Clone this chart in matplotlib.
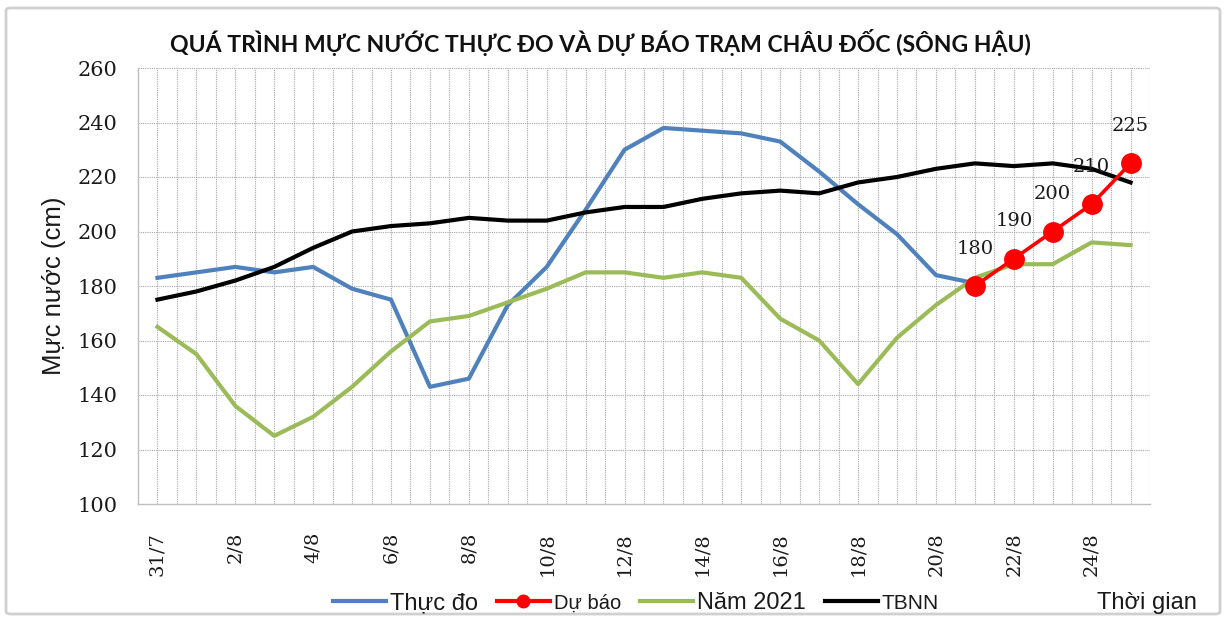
import matplotlib
matplotlib.use("Agg")
import matplotlib.pyplot as plt
from matplotlib.patches import FancyBboxPatch
from matplotlib.ticker import MultipleLocator, FixedLocator
import numpy as np

dates = ["31/7", "1/8", "2/8", "3/8", "4/8", "5/8", "6/8", "7/8", "8/8", "9/8",
         "10/8", "11/8", "12/8", "13/8", "14/8", "15/8", "16/8", "17/8", "18/8",
         "19/8", "20/8", "21/8", "22/8", "23/8", "24/8", "25/8"]

thuc_do = [183, 185, 187, 185, 187, 179, 175, 143, 146, 173, 187, 208, 230, 238,
           237, 236, 233, 222, 210, 199, 184, 181]
du_bao_dates = ["21/8", "22/8", "23/8", "24/8", "25/8"]
du_bao = [180, 190, 200, 210, 225]
nam_2021 = [165, 155, 136, 125, 132, 143, 156, 167, 169, 174, 179, 185, 185, 183,
            185, 183, 168, 160, 144, 161, 173, 183, 188, 188, 196, 195]
tbnn = [175, 178, 182, 187, 194, 200, 202, 203, 205, 204, 204, 207, 209, 209, 212,
        214, 215, 214, 218, 220, 223, 225, 224, 225, 223, 218]

W, H = 1226, 620
fig = plt.figure(figsize=(W / 100, H / 100), dpi=100)
fig.patch.set_facecolor("white")

# outer frame
frame = FancyBboxPatch((6 / W, 6 / H), (W - 12) / W, (H - 14) / H,
                       boxstyle="round,pad=0,rounding_size=0.004",
                       transform=fig.transFigure, facecolor="white",
                       edgecolor="#d0d0d0", linewidth=2.0, zorder=-10)
fig.patches.append(frame)

ax = fig.add_axes([138 / W, 1 - 504 / H, (1150 - 138) / W, (504 - 68) / H])
ax.set_facecolor("none")

x_all = np.arange(len(dates))
idx = {d: i for i, d in enumerate(dates)}

ax.plot(x_all[:len(thuc_do)], thuc_do, color="#4f81bd", lw=3.0, label="Thực đo",
        zorder=3)
xb = [idx[d] for d in du_bao_dates]
ax.plot(xb, du_bao, color="#ff0000", lw=2.6, marker="o", markersize=14,
        label="Dự báo", zorder=5)
ax.plot(x_all, nam_2021, color="#9bbb59", lw=3.0, label="Năm 2021", zorder=3)
ax.plot(x_all, tbnn, color="#000000", lw=3.0, label="TBNN", zorder=4)

for xi, v in zip(xb, du_bao):
    ax.annotate(str(v), (xi, v), xytext=(0, 27), textcoords="offset points",
                ha="center", va="center", fontsize=14, family="DejaVu Serif",
                color="#1a1a1a", zorder=6)

ax.set_xlim(-0.5, len(dates) - 0.5)
ax.set_ylim(100, 260)
ax.yaxis.set_major_locator(MultipleLocator(20))
ax.xaxis.set_major_locator(FixedLocator(list(range(0, len(dates), 2))))
ax.set_xticklabels([dates[i] for i in range(0, len(dates), 2)], rotation=90,
                   family="DejaVu Serif", fontsize=14)
for lab in ax.get_yticklabels():
    lab.set_family("DejaVu Serif")
    lab.set_fontsize(15)
ax.tick_params(axis="both", length=0, colors="#1a1a1a")
ax.tick_params(axis="x", pad=20)
ax.tick_params(axis="y", pad=15)

# grid: horizontal at each 20, vertical every half category
for yv in range(120, 261, 20):
    ax.axhline(yv, color="#a6a6a6", lw=0.8, ls=(0, (1, 1)), zorder=1)
for xv in np.arange(0, len(dates) - 0.4, 0.5):
    ax.axvline(xv, color="#a6a6a6", lw=0.8, ls=(0, (1, 1)), zorder=1)

for s in ["top", "right"]:
    ax.spines[s].set_visible(False)
for s in ["left", "bottom"]:
    ax.spines[s].set_color("#bfbfbf")
    ax.spines[s].set_linewidth(1.0)

ax.set_ylabel("Mực nước (cm)", fontsize=18.5, family="Liberation Sans",
              color="#1a1a1a", labelpad=8)

fig.text(600 / W, 1 - 42 / H,
         "QUÁ TRÌNH MỰC NƯỚC THỰC ĐO VÀ DỰ BÁO TRẠM CHÂU ĐỐC (SÔNG HẬU)",
         ha="center", va="center", fontsize=16.6, fontweight="bold",
         family="Lato", color="#111111")

leg = fig.legend(loc="center", bbox_to_anchor=(636 / W, 1 - 603 / H), ncol=4,
                 frameon=False, handlelength=2.25, columnspacing=0.8,
                 handletextpad=0.17, borderpad=0.2,
                 prop={"family": "Liberation Sans", "size": 17})
sizes = [17, 14.5, 17, 15]
for t, s in zip(leg.get_texts(), sizes):
    t.set_fontsize(s)
    t.set_color("#1a1a1a")
for h in leg.legend_handles:
    h.set_linewidth(3.0)
leg.legend_handles[1].set_markersize(9)

fig.text(1147 / W, 1 - 603 / H, "Thời gian", ha="center", va="center",
         fontsize=17, family="Liberation Sans", color="#1a1a1a")

fig.savefig("out.png", dpi=100, facecolor="white")
